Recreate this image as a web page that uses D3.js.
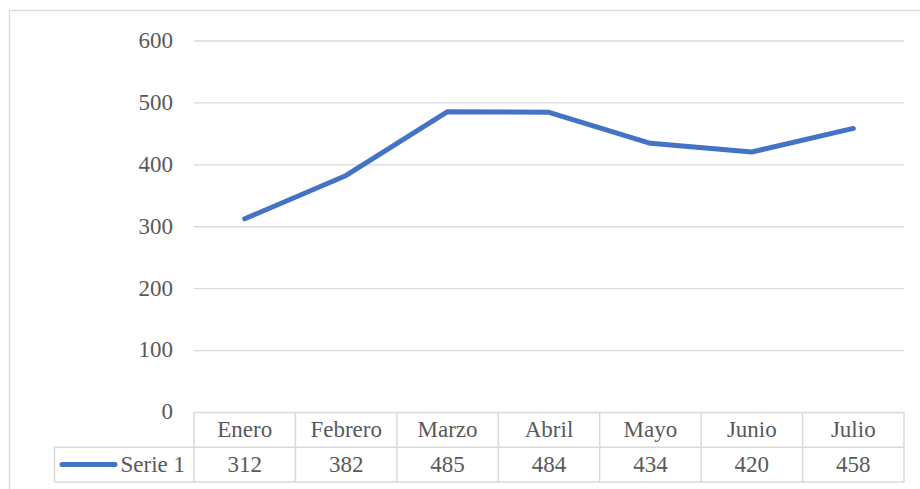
<!DOCTYPE html>
<html>
<meta charset="utf-8">
<script src="https://d3js.org/d3.v7.min.js"></script>
<style>
  body { margin: 0; background: #fff; }
  text { font-family: "Liberation Serif", "Times New Roman", serif; fill: #595959; }
</style>
<body>
<div id="vis"></div>
<script>
  // data
  const months = ["Enero", "Febrero", "Marzo", "Abril", "Mayo", "Junio", "Julio"];
  const serie1 = [312, 382, 485, 484, 434, 420, 458];
  const seriesName = "Serie 1";
  const yTicks = [0, 100, 200, 300, 400, 500, 600];

  const total_width = 920, total_height = 489;
  const plot = {left: 194, right: 904, top: 40.5, bottom: 412};
  const rowH = 34.7;
  const gridColor = "#d9d9d9";
  const fontSize = "23px";

  const svg = d3.select("#vis")
    .append("svg")
      .attr("width", total_width)
      .attr("height", total_height);

  // chart frame
  svg.append("rect")
    .attr("x", 9.5).attr("y", 10.5)
    .attr("width", 930).attr("height", 500)
    .attr("fill", "none")
    .attr("stroke", gridColor)
    .attr("stroke-width", 1.3);

  const x_scale = d3.scaleBand()
    .domain(months)
    .range([plot.left, plot.right]);

  const y_scale = d3.scaleLinear()
    .domain([0, 600])
    .range([plot.bottom, plot.top]);

  // gridlines + y labels
  const yAxis = svg.append("g")
    .attr("transform", `translate(${plot.left},0)`)
    .call(d3.axisLeft(y_scale)
      .tickValues(yTicks)
      .tickSize(-(plot.right - plot.left))
      .tickPadding(21));
  yAxis.select(".domain").remove();
  yAxis.selectAll(".tick line")
    .attr("stroke", gridColor)
    .attr("stroke-width", 1.3)
    .filter(d => d === 0).remove();
  yAxis.selectAll(".tick text")
    .style("font-family", "'Liberation Serif', serif")
    .style("font-size", fontSize)
    .attr("fill", "#595959")
    .attr("dy", "0.3em");

  // line
  const line = d3.line()
    .x((d, i) => x_scale(months[i]) + x_scale.bandwidth() / 2)
    .y(d => y_scale(d));

  svg.append("path")
    .datum(serie1)
    .attr("d", line)
    .attr("fill", "none")
    .attr("stroke", "#4472c4")
    .attr("stroke-width", 5)
    .attr("stroke-linecap", "round")
    .attr("stroke-linejoin", "round");

  // data table
  const table = svg.append("g").attr("class", "table");
  const t0 = plot.bottom + 0.5;
  const legLeft = 54.5;

  // horizontal lines
  table.append("line")
    .attr("x1", plot.left).attr("x2", plot.right)
    .attr("y1", t0).attr("y2", t0);
  table.append("line")
    .attr("x1", legLeft).attr("x2", plot.right)
    .attr("y1", t0 + rowH).attr("y2", t0 + rowH);
  table.append("line")
    .attr("x1", legLeft).attr("x2", plot.right)
    .attr("y1", t0 + 2 * rowH).attr("y2", t0 + 2 * rowH);

  // vertical lines
  table.append("line")
    .attr("x1", legLeft).attr("x2", legLeft)
    .attr("y1", t0 + rowH).attr("y2", t0 + 2 * rowH);
  const bounds = months.map(m => x_scale(m)).concat([plot.right]);
  table.selectAll(".vline")
    .data(bounds)
    .join("line")
      .attr("class", "vline")
      .attr("x1", d => d).attr("x2", d => d)
      .attr("y1", t0).attr("y2", t0 + 2 * rowH);
  table.selectAll("line")
    .attr("stroke", gridColor)
    .attr("stroke-width", 1.5);

  // header row
  table.selectAll(".hdr")
    .data(months)
    .join("text")
      .attr("class", "hdr")
      .attr("x", d => x_scale(d) + x_scale.bandwidth() / 2)
      .attr("y", t0 + rowH / 2)
      .attr("dy", "0.33em")
      .attr("text-anchor", "middle")
      .style("font-size", fontSize)
      .text(d => d);

  // value row
  table.selectAll(".val")
    .data(serie1)
    .join("text")
      .attr("class", "val")
      .attr("x", (d, i) => x_scale(months[i]) + x_scale.bandwidth() / 2)
      .attr("y", t0 + rowH * 1.5)
      .attr("dy", "0.33em")
      .attr("text-anchor", "middle")
      .style("font-size", fontSize)
      .text(d => d);

  // legend key in table
  table.append("line")
    .attr("x1", 62).attr("x2", 115)
    .attr("y1", t0 + rowH * 1.5).attr("y2", t0 + rowH * 1.5)
    .attr("stroke", "#4472c4")
    .attr("stroke-width", 5)
    .attr("stroke-linecap", "round");
  table.append("text")
    .attr("x", 185)
    .attr("y", t0 + rowH * 1.5)
    .attr("dy", "0.33em")
    .attr("text-anchor", "end")
    .style("font-size", fontSize)
    .text(seriesName);
</script>
</body>
</html>
